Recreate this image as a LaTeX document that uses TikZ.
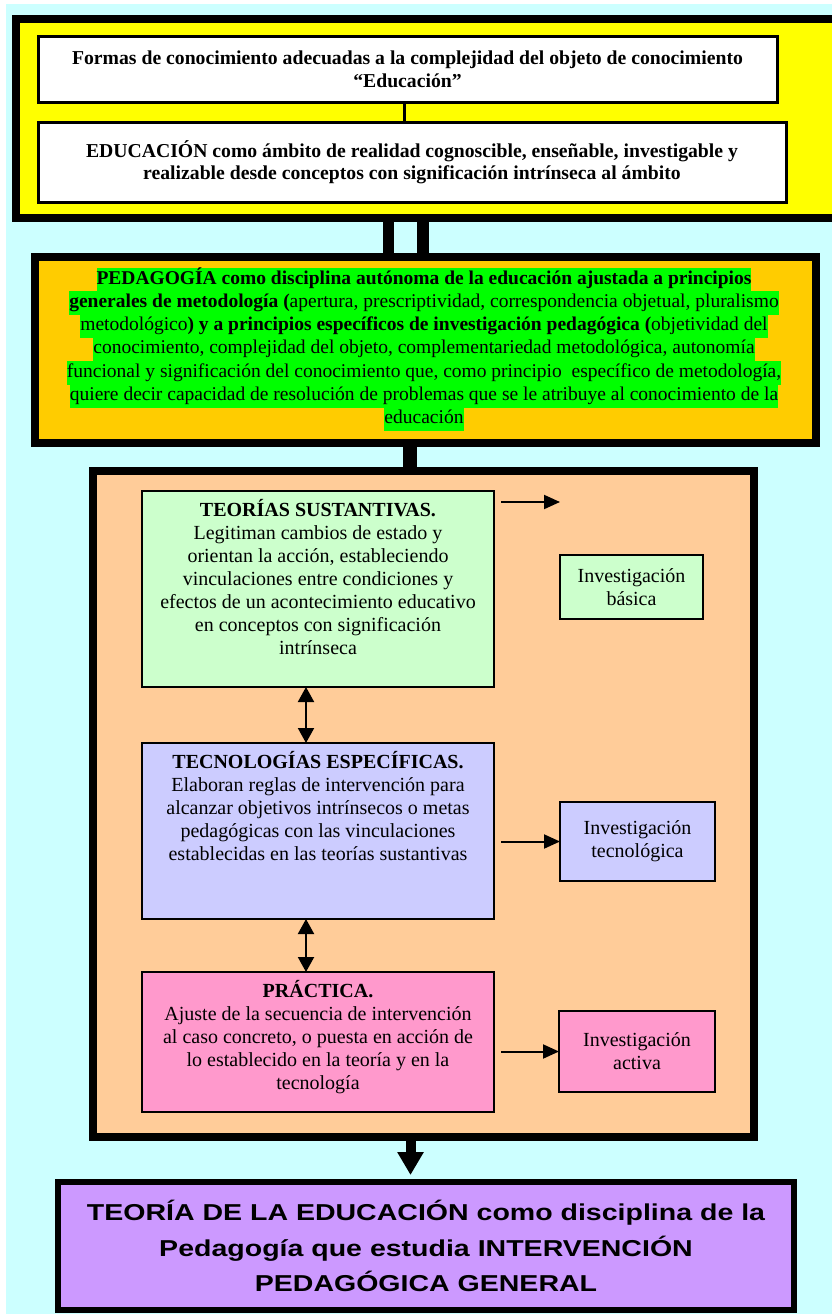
\documentclass[tikz,border=0pt]{standalone}
\usepackage{fontspec}
\setmainfont{Liberation Serif}
\newfontfamily\widesans[FakeStretch=1.24]{Liberation Sans}
\usetikzlibrary{positioning, calc, arrows.meta}
\definecolor{bgcyan}{HTML}{CCFFFF}
\definecolor{topyellow}{HTML}{FFFF00}
\definecolor{pedorange}{HTML}{FFCC00}
\definecolor{hlgreen}{HTML}{00FF00}
\definecolor{peach}{HTML}{FFCC99}
\definecolor{teogreen}{HTML}{CCFFCC}
\definecolor{teclilac}{HTML}{CCCCFF}
\definecolor{pracpink}{HTML}{FF99CC}
\definecolor{teopurple}{HTML}{CC99FF}
\newcommand{\stagetxt}[2]{\parbox[t][#1][t]{336pt}{\centering #2}}

\begin{document}
\begin{tikzpicture}[x=1pt, y=-1pt,
  frame/.style={draw, line width=8pt, inner sep=0pt, outer sep=0pt},
  plain/.style={draw, line width=3pt, fill=white, inner sep=0pt, outer sep=0pt, align=center,
    font=\fontsize{19.7}{22.5}\selectfont\bfseries},
  hl/.style={fill=hlgreen, inner sep=0pt, outer sep=0pt, text height=16pt, text depth=7.3pt,
    font=\fontsize{19.5}{23.3}\selectfont},
  stage/.style={draw, line width=1.8pt, inner xsep=8pt, inner ysep=8pt, outer sep=0pt,
    font=\fontsize{20}{23}\selectfont},
  inv/.style={draw, line width=1.8pt, align=center, inner sep=0pt, outer sep=0pt,
    font=\fontsize{20}{23}\selectfont},
  arr/.style={line width=2pt, -{Triangle[length=16pt,width=14pt]}},
  darr/.style={line width=2pt, {Triangle[length=15pt,width=16pt]}-{Triangle[length=15pt,width=16pt]}},
  bar/.style={line width=11.5pt}]
  \useasboundingbox (0,0) rectangle (832,1314);
  \clip (0,0) rectangle (832,1314);
  \fill[white] (0,0) rectangle (832,1314);
  \fill[bgcyan] (6,4) rectangle (832,1314);

  \node[frame, fill=topyellow, minimum width=824pt, minimum height=199pt] (yellow) at (428,118.5) {};
  \node[plain, minimum width=739pt, minimum height=65pt] (forms) at (407.5,69.5)
    {Formas de conocimiento adecuadas a la complejidad del objeto de conocimiento\\“Educación”};
  \node[plain, minimum width=748pt, minimum height=80pt] (edu) at (412,162)
    {EDUCACIÓN como ámbito de realidad cognoscible, enseñable, investigable y\\realizable desde conceptos con significación intrínseca al ámbito};
  \draw[line width=3pt] ([xshift=-3.5pt]forms.south) -- ([xshift=-8pt]edu.north);

  \node[frame, fill=pedorange, minimum width=781pt, minimum height=186pt] (ped) at (425.5,350) {};
  \draw[bar] ([xshift=-39.5pt]yellow.south) -- ([xshift=-37pt]ped.north);
  \draw[bar] ([xshift=-5pt]yellow.south) -- ([xshift=-2.5pt]ped.north);
  \node[hl, anchor=north] (p1) at (424,268) {\bfseries PEDAGOGÍA como disciplina autónoma de la educación ajustada a principios};
  \node[hl, below=0pt of p1] (p2) {\textbf{generales de metodología (}apertura, prescriptividad, correspondencia objetual, pluralismo};
  \node[hl, below=0pt of p2] (p3) {metodológico\textbf{) y a principios específicos de investigación pedagógica (}objetividad del};
  \node[hl, below=0pt of p3] (p4) {conocimiento, complejidad del objeto, complementariedad metodológica, autonomía};
  \node[hl, below=0pt of p4] (p5) {funcional y significación del conocimiento que, como principio\ \ específico de metodología,};
  \node[hl, below=0pt of p5] (p6) {quiere decir capacidad de resolución de problemas que se le atribuye al conocimiento de la};
  \node[hl, below=0pt of p6] (p7) {educación};

  \node[frame, fill=peach, minimum width=661pt, minimum height=666pt] (peach) at (423.5,804) {};
  \draw[line width=14.5pt] ([xshift=-15.5pt]ped.south) -- ([xshift=-13.5pt]peach.north);

  \node[stage, fill=teogreen] (tsust) at (318,589) {\stagetxt{180pt}{\textbf{TEORÍAS SUSTANTIVAS.}\\Legitiman cambios de estado y\\orientan la acción, estableciendo\\vinculaciones entre condiciones y\\efectos de un acontecimiento educativo\\en conceptos con significación\\intrínseca}};
  \node[stage, fill=teclilac, below=56pt of tsust] (tec) {\stagetxt{160pt}{\textbf{TECNOLOGÍAS ESPECÍFICAS.}\\Elaboran reglas de intervención para\\alcanzar objetivos intrínsecos o metas\\pedagógicas con las vinculaciones\\establecidas en las teorías sustantivas}};
  \node[stage, fill=pracpink, below=53pt of tec] (prac) {\stagetxt{124pt}{\textbf{PRÁCTICA.}\\Ajuste de la secuencia de intervención\\al caso concreto, o puesta en acción de\\lo establecido en la teoría y en la\\tecnología}};

  \node[inv, fill=teogreen, minimum width=143pt, minimum height=64pt] (invbas) at (631.5,587) {Investigación\\básica};
  \node[inv, fill=teclilac, minimum width=155pt, minimum height=79pt] (invtec) at (637.5,841.5) {Investigación\\tecnológica};
  \node[inv, fill=pracpink, minimum width=156pt, minimum height=81pt] (invact) at (637,1051.5) {Investigación\\activa};

  \coordinate (basstart) at (501,502);
  \coordinate (basend) at (560,502);
  \draw[arr] (basstart) -- (basend);
  \draw[arr] ($(tec.east |- invtec.west)+(7pt,0)$) -- (invtec.west);
  \draw[arr] ($(prac.east |- invact.west)+(7pt,0)$) -- (invact.west);
  \draw[darr] ([xshift=-12pt]tsust.south) -- ([xshift=-12pt]tec.north);
  \draw[darr] ([xshift=-12pt]tec.south) -- ([xshift=-12pt]prac.north);

  \node[draw, line width=6pt, fill=teopurple, minimum width=736pt, minimum height=128pt, inner sep=0pt, outer sep=0pt,
    align=center, font=\widesans\bfseries\fontsize{23}{35.5}\selectfont] (teoria) at (426,1246)
    {TEORÍA DE LA EDUCACIÓN como disciplina de la\\Pedagogía que estudia INTERVENCIÓN\\PEDAGÓGICA GENERAL};
  \draw[line width=10pt, -{Triangle[length=23pt,width=25pt]}] ([xshift=-13pt]peach.south) -- ([xshift=-15.5pt,yshift=7pt]teoria.north);
\end{tikzpicture}
\end{document}
